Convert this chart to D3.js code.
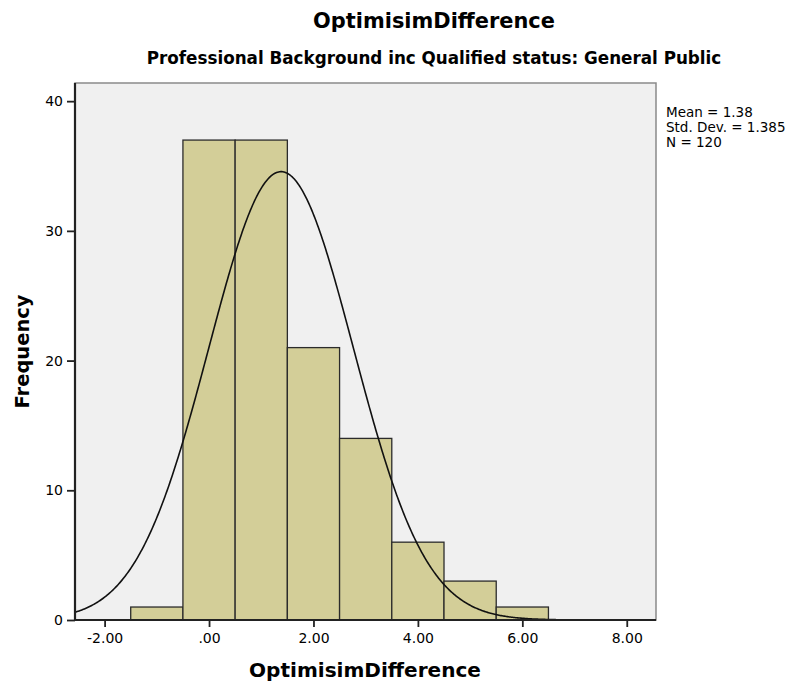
<!DOCTYPE html>
<html>
<head>
<meta charset="utf-8">
<script src="https://cdn.jsdelivr.net/npm/d3@7"></script>
<style>
  body { margin: 0; background: #fff; }
  svg { display: block; }
  text { font-family: "DejaVu Sans", Verdana, sans-serif; fill: #000; }
</style>
</head>
<body>
<svg id="chart" width="796" height="683"></svg>
<script>
// Histogram of OptimisimDifference (bin width 1), with fitted normal curve
const binCenters = [-1, 0, 1, 2, 3, 4, 5, 6];
const counts     = [1, 37, 37, 21, 14, 6, 3, 1];
const xTicks     = [-2, 0, 2, 4, 6, 8];
const yTicks     = [0, 10, 20, 30, 40];
const stats      = { mean: 1.38, sd: 1.385, n: 120 };
const statLines  = ["Mean = 1.38", "Std. Dev. = 1.385", "N = 120"];
const binWidth = 1;

const svg = d3.select("#chart");
const plot = { left: 75, right: 656, top: 83, bottom: 620 };

const x = d3.scaleLinear().domain([-2.567, 8.56]).range([plot.left, plot.right]);
const y = d3.scaleLinear().domain([0, 41.4]).range([plot.bottom, plot.top]);

// plot background
svg.append("rect")
  .attr("x", plot.left).attr("y", plot.top)
  .attr("width", plot.right - plot.left).attr("height", plot.bottom - plot.top)
  .attr("fill", "#f0f0f0").attr("stroke", "#8a8a8a").attr("stroke-width", 1.5);

// bars
svg.append("g").selectAll("rect")
  .data(binCenters.map((c, i) => ({ c, v: counts[i] })))
  .join("rect")
  .attr("x", d => x(d.c - binWidth / 2))
  .attr("y", d => y(d.v))
  .attr("width", d => x(d.c + binWidth / 2) - x(d.c - binWidth / 2))
  .attr("height", d => y(0) - y(d.v))
  .attr("fill", "#d3ce98")
  .attr("stroke", "#2b2b2b")
  .attr("stroke-width", 1.3);

// normal curve scaled to counts
const dens = v => stats.n * binWidth / (stats.sd * Math.sqrt(2 * Math.PI)) *
  Math.exp(-0.5 * Math.pow((v - stats.mean) / stats.sd, 2));
const xs = d3.range(x.domain()[0], x.domain()[1] + 0.001, 0.02);
svg.append("path")
  .datum(xs)
  .attr("fill", "none")
  .attr("stroke", "#111")
  .attr("stroke-width", 1.6)
  .attr("d", d3.line().x(d => x(d)).y(d => y(dens(d))));

// axes
const fmtX = d => d === 0 ? ".00" : d3.format(".2f")(d).replace("\u2212", "-");
const xAxis = svg.append("g")
  .attr("transform", `translate(0,${plot.bottom})`)
  .call(d3.axisBottom(x).tickValues(xTicks).tickSize(7).tickSizeOuter(0).tickFormat(fmtX).tickPadding(6));
const yAxis = svg.append("g")
  .attr("transform", `translate(${plot.left},0)`)
  .call(d3.axisLeft(y).tickValues(yTicks).tickSize(8).tickSizeOuter(0).tickPadding(4));

[xAxis, yAxis].forEach(g => {
  g.select(".domain").attr("stroke", "#222").attr("stroke-width", 2.2);
  g.selectAll(".tick line").attr("stroke", "#222").attr("stroke-width", 1.8);
  g.selectAll(".tick text").attr("font-size", 14).attr("fill", "#111")
    .attr("font-family", "\"DejaVu Sans\", Verdana, sans-serif");
});
xAxis.select(".domain").attr("d", `M${plot.left},0H${plot.right}`);
yAxis.select(".domain").attr("d", `M0,${plot.bottom}V${plot.top}`);

// fit bold text to a target width
function fitText(sel, width) {
  const w = sel.node().getComputedTextLength();
  const fs = parseFloat(sel.attr("font-size"));
  sel.attr("font-size", fs * width / w);
}

// titles
const title = svg.append("text")
  .attr("x", 434).attr("y", 28).attr("text-anchor", "middle")
  .attr("font-size", 20).attr("font-weight", "bold")
  .text("OptimisimDifference");
fitText(title, 242);

const subtitle = svg.append("text")
  .attr("x", 434).attr("y", 64).attr("text-anchor", "middle")
  .attr("font-size", 14).attr("font-weight", "bold")
  .text("Professional Background inc Qualified status: General Public");
fitText(subtitle, 575);

const xLabel = svg.append("text")
  .attr("x", 365).attr("y", 677).attr("text-anchor", "middle")
  .attr("font-size", 18).attr("font-weight", "bold")
  .text("OptimisimDifference");
fitText(xLabel, 232);

const yLabel = svg.append("text")
  .attr("transform", `translate(29,${(plot.top + plot.bottom) / 2}) rotate(-90)`)
  .attr("text-anchor", "middle")
  .attr("font-size", 18).attr("font-weight", "bold")
  .text("Frequency");
fitText(yLabel, 114);

// summary statistics
svg.append("g").selectAll("text")
  .data(statLines)
  .join("text")
  .attr("x", 666)
  .attr("y", (d, i) => 117 + i * 15)
  .attr("font-size", 13.5)
  .text(d => d);
</script>
</body>
</html>
